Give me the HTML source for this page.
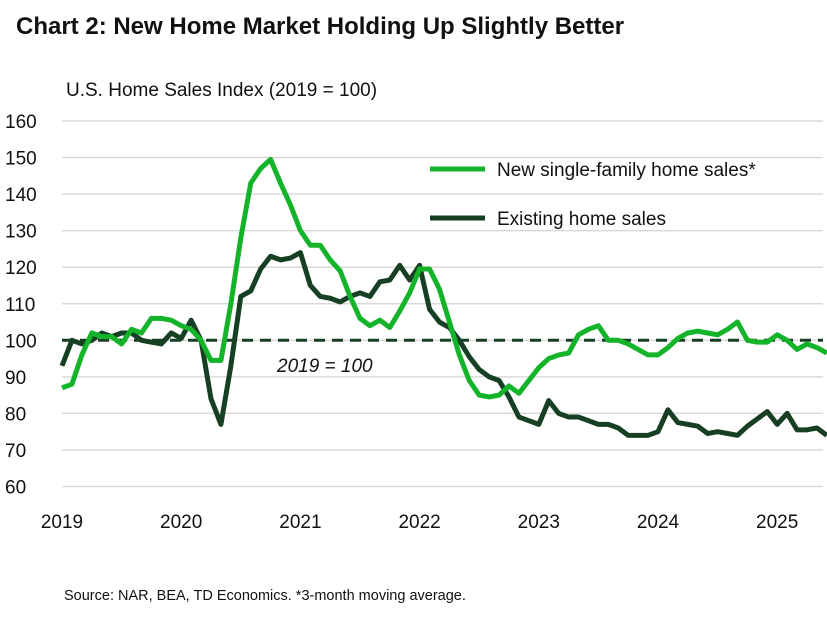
<!DOCTYPE html>
<html><head><meta charset="utf-8"><style>
body{margin:0;background:#fff;}
svg text{font-family:"Liberation Sans",sans-serif;fill:#111;}
</style></head><body>
<svg width="827" height="617" viewBox="0 0 827 617" id="c">
<text x="16" y="34" font-size="24" font-weight="bold">Chart 2: New Home Market Holding Up Slightly Better</text>
<text x="66" y="96" font-size="19">U.S. Home Sales Index (2019 = 100)</text>
<g id="grid"></g><g id="ylab"></g><g id="xlab"></g>
<line id="ref" stroke="#173f24" stroke-width="3" stroke-dasharray="11,7"/>
<text x="277" y="372" font-size="19" font-style="italic">2019 = 100</text>
<polyline id="exist" fill="none" stroke="#173f24" stroke-width="5" stroke-linejoin="round"/>
<polyline id="newh" fill="none" stroke="#14b42a" stroke-width="5" stroke-linejoin="round"/>
<g>
<line x1="430" y1="169" x2="485" y2="169" stroke="#14b42a" stroke-width="5"/>
<text x="497" y="176" font-size="19">New single-family home sales*</text>
<line x1="430" y1="218" x2="485" y2="218" stroke="#173f24" stroke-width="5"/>
<text x="497" y="225" font-size="19">Existing home sales</text>
</g>
<text x="64" y="600" font-size="14.5">Source: NAR, BEA, TD Economics. *3-month moving average.</text>
</svg>
<script>
const yTicks=[60,70,80,90,100,110,120,130,140,150,160];
const xTickLabels=["2019","2020","2021","2022","2023","2024","2025"];
const newSales=[87,88,96,102,101,101,99,103,102,106,106,105.5,
104,103,100,94.5,94.5,110,128,143,147,149.5,143,137,
130,126,126,122,119,112,106,104,105.5,103.5,108,113,
119.5,119.5,114,105,96,89,85,84.5,85,87.5,85.5,89,
92.5,95,96,96.5,101.5,103,104,100,100,99,97.5,96,
96,98,100.5,102,102.5,102,101.5,103,105,100,99.5,99.5,
101.5,100,97.5,99,98,96.5];
const existingSales=[93,100,99,100,102,101,102,102,100,99.5,99,102,
100.5,105.5,100,84,77,93,112,113.5,119.5,123,122,122.5,
124,115,112,111.5,110.5,112,113,112,116,116.5,120.5,116.5,
120.5,108.5,105,103.5,100,95.5,92,90,89,84.5,79,78,
77,83.5,80,79,79,78,77,77,76,74,74,74,
75,81,77.5,77,76.5,74.5,75,74.5,74,76.5,78.5,80.5,
77,80,75.5,75.5,76,74];
const X0=62,DX=119.2/12,YT=121,YB=486.5;
const y=v=>YB-(v-60)/100*(YB-YT);
const x=i=>X0+i*DX;
const NS="http://www.w3.org/2000/svg";
const g=document.getElementById('grid'),yl=document.getElementById('ylab'),xl=document.getElementById('xlab');
yTicks.forEach(t=>{
 const l=document.createElementNS(NS,'line');
 l.setAttribute('x1',62);l.setAttribute('x2',823);l.setAttribute('y1',y(t));l.setAttribute('y2',y(t));
 l.setAttribute('stroke','#d9d9d9');l.setAttribute('stroke-width','1.5');
 
 
 g.appendChild(l);
 const tx=document.createElementNS(NS,'text');
 tx.setAttribute('x',5);tx.setAttribute('y',y(t)+7);tx.setAttribute('font-size','19');
 tx.textContent=t;
 
 
 yl.appendChild(tx);
});
xTickLabels.forEach((s,i)=>{
 const tx=document.createElementNS(NS,'text');
 tx.setAttribute('x',x(i*12));tx.setAttribute('y',528);tx.setAttribute('font-size','19');
 tx.setAttribute('text-anchor','middle');tx.textContent=s;
 
 
 xl.appendChild(tx);
});
const r=document.getElementById('ref');
r.setAttribute('x1',62);r.setAttribute('x2',823);r.setAttribute('y1',y(100));r.setAttribute('y2',y(100));
document.getElementById('newh').setAttribute('points',newSales.map((v,i)=>x(i)+','+y(v)).join(' '));
document.getElementById('exist').setAttribute('points',existingSales.map((v,i)=>x(i)+','+y(v)).join(' '));
</script>
</body></html>
